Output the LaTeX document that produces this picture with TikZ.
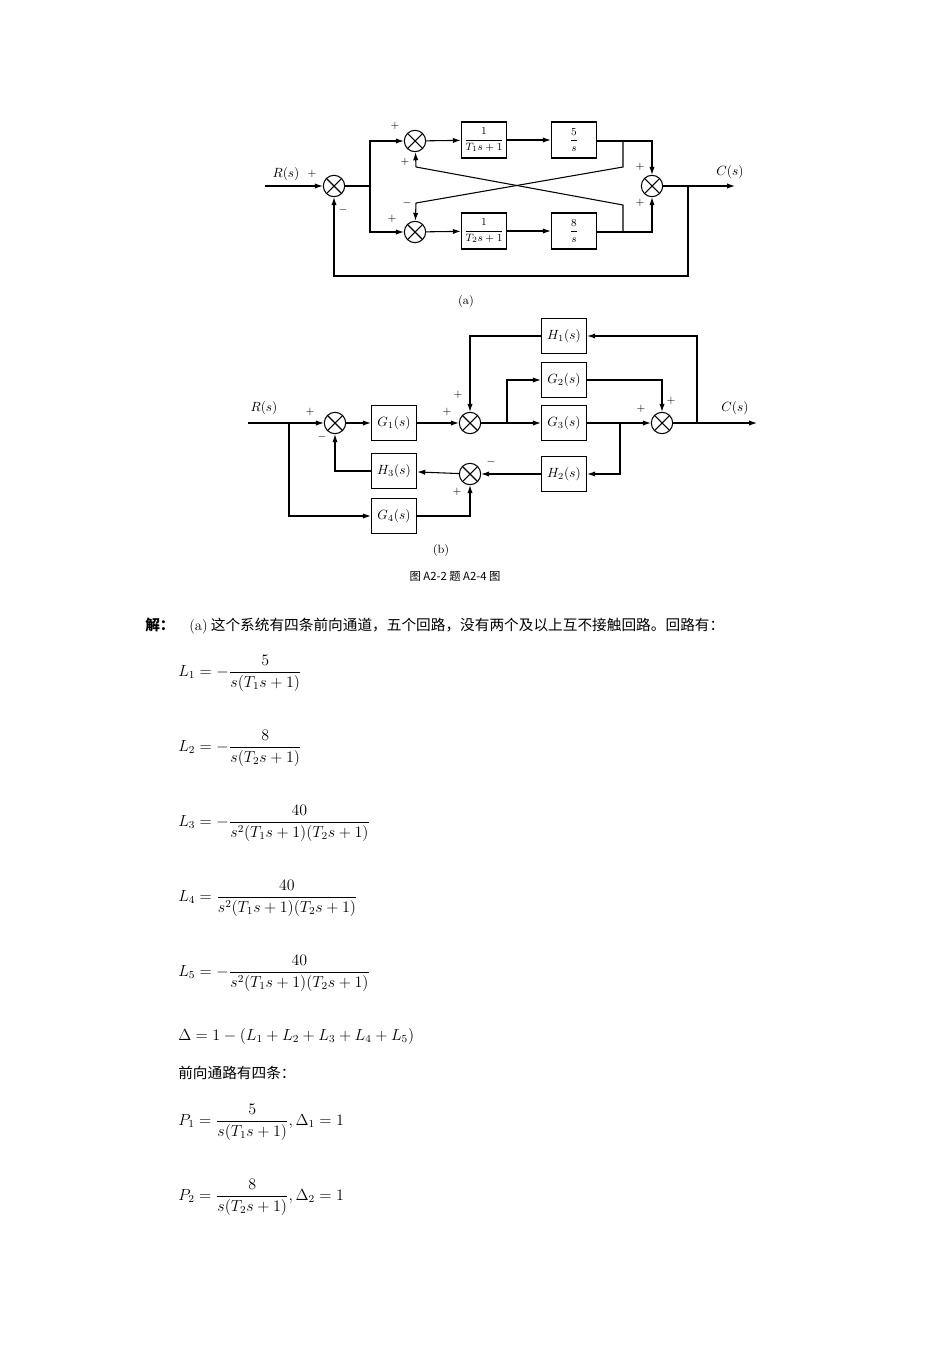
\documentclass[tikz,border=0pt]{standalone}
\usepackage{fontspec}
\usepackage{amsmath}
\newfontfamily\cjk{Noto Sans CJK SC}
\usetikzlibrary{arrows.meta}
\begin{document}
\begin{tikzpicture}[x=0.75pt,y=-0.75pt,
  sum/.style={circle,draw,thick,minimum size=16pt,inner sep=0pt,
    path picture={\draw[thick] (path picture bounding box.north west)--(path picture bounding box.south east)
      (path picture bounding box.north east)--(path picture bounding box.south west);}},
  blk/.style={draw,thick,minimum width=34pt,minimum height=27pt,inner sep=0pt,font=\footnotesize},
  sblk/.style={draw,thick,minimum width=34pt,minimum height=26pt,inner sep=0pt},
  ar/.style={-{Latex[length=6pt,width=4pt]},thick},
  ln/.style={thick},
  sg/.style={font=\footnotesize,inner sep=0pt},
  eq/.style={anchor=west,inner sep=0pt,font=\fontsize{12}{14}\selectfont},
  tx/.style={anchor=west,inner sep=0pt,font=\cjk\fontsize{11}{13}\selectfont}]
\useasboundingbox (0,0) rectangle (950,1345);
% ---------- (a) ----------
\node[sum] (s0) at (334,186) {};
\node[sum] (s1) at (415,141) {};
\node[sum] (s2) at (415,232) {};
\node[sum] (s3) at (652,186) {};
\node[blk] (a1) at (484,140) {$\dfrac{1}{T_1s+1}$};
\node[blk] (a2) at (574,140) {$\dfrac{5}{s}$};
\node[blk] (b1) at (484,231) {$\dfrac{1}{T_2s+1}$};
\node[blk] (b2) at (574,231) {$\dfrac{8}{s}$};
\coordinate (ra) at (265,186);
\coordinate (ja) at (370,186);
\coordinate (jt) at (623,141);
\coordinate (jb) at (623,232);
\coordinate (ca) at (735,186);
\coordinate (fa) at (688,186);
\node[inner sep=0pt] (Ra) at (286,174) {$R(s)$};
\node[inner sep=0pt] (Ca) at (730,172) {$C(s)$};
\draw[ar] (ra)--(s0);
\draw[ln] (s0)--(ja);
\draw[ar] (ja)|-(s1);
\draw[ar] (ja)|-(s2);
\draw[ar] (s1)--(a1);
\draw[ar] (a1)--(a2);
\draw[ar] (s2)--(b1);
\draw[ar] (b1)--(b2);
\draw[ln] (a2.east|-jt)--(jt);
\draw[ar] (jt)-|(s3);
\draw[ln] (b2.east|-jb)--(jb);
\draw[ar] (jb)-|(s3);
\draw[ln] (jt)--(623,167)--(416,203);
\draw[ar] (416,203)--(s2);
\draw[ln] (jb)--(623,205)--(416,167);
\draw[ar] (416,167)--(s1);
\draw[ar] (s3)--(ca);
\draw[ar] (fa)--(688,276)-|(s0);
\node[sg] at (312,174) {$+$};
\node[sg] at (343,210) {$-$};
\node[sg] at (395,126) {$+$};
\node[sg] at (405,162) {$+$};
\node[sg] at (407,203) {$-$};
\node[sg] at (392,219) {$+$};
\node[sg] at (640,167) {$+$};
\node[sg] at (640,203) {$+$};
\node[inner sep=0pt] (la) at (466,301) {\small (a)};
% ---------- (b) ----------
\node[sum] (t0) at (335,423) {};
\node[sum] (t1) at (470,423) {};
\node[sum] (t2) at (662,423) {};
\node[sum] (t3) at (470,474) {};
\node[sblk] (g1) at (394,423) {$G_1(s)$};
\node[sblk] (h1) at (564,336) {$H_1(s)$};
\node[sblk] (g2) at (564,380) {$G_2(s)$};
\node[sblk] (g3) at (564,423) {$G_3(s)$};
\node[sblk] (h2) at (564,474) {$H_2(s)$};
\node[sblk] (h3) at (394,471) {$H_3(s)$};
\node[sblk] (g4) at (394,516) {$G_4(s)$};
\coordinate (rb) at (248,423);
\coordinate (jr) at (289,423);
\coordinate (jg) at (507,423);
\coordinate (jh) at (620,423);
\coordinate (jo) at (697,423);
\coordinate (cb) at (757,423);
\node[inner sep=0pt] at (264,408) {$R(s)$};
\node[inner sep=0pt] at (735,408) {$C(s)$};
\draw[ln] (rb)--(jr);
\draw[ar] (jr)--(t0);
\draw[ar] (jr)|-(g4);
\draw[ar] (t0)--(g1);
\draw[ar] (g1)--(t1);
\draw[ln] (t1)--(jg);
\draw[ar] (jg)--(g3);
\draw[ar] (jg)|-(g2);
\draw[ar] (g2.east)-|(t2);
\draw[ar] (g3)--(t2);
\draw[ar] (jh)|-(h2);
\draw[ar] (h2)--(t3);
\draw[ar] (t3)--(h3);
\draw[ar] (h3.west)-|(t0);
\draw[ar] (g4.east)-|(t3);
\draw[ar] (t2)--(cb);
\draw[ar] (jo)|-(h1);
\draw[ar] (h1.west)-|(t1);
\node[sg] at (310,412) {$+$};
\node[sg] at (322,437) {$-$};
\node[sg] at (458,395) {$+$};
\node[sg] at (447,412) {$+$};
\node[sg] at (641,409) {$+$};
\node[sg] at (671,401) {$+$};
\node[sg] at (491,462) {$-$};
\node[sg] at (457,492) {$+$};
\node[inner sep=0pt] at (441,550) {\small (b)};
\node[inner sep=0pt,font=\cjk\fontsize{8.5}{10}\selectfont] at (455,576) {图 A2-2 题 A2-4 图};
% ---------- text ----------
\node[tx] (h) at (145,626) {{\bfseries 解：}\quad{\rmfamily (a)} 这个系统有四条前向通道，五个回路，没有两个及以上互不接触回路。回路有：};
\node[eq] (e1) at (178,673) {$L_1=-\dfrac{5}{s(T_1s+1)}$};
\node[eq] (e2) at (178,748) {$L_2=-\dfrac{8}{s(T_2s+1)}$};
\node[eq] (e3) at (178,823) {$L_3=-\dfrac{40}{s^2(T_1s+1)(T_2s+1)}$};
\node[eq] (e4) at (178,898) {$L_4=\dfrac{40}{s^2(T_1s+1)(T_2s+1)}$};
\node[eq] (e5) at (178,973) {$L_5=-\dfrac{40}{s^2(T_1s+1)(T_2s+1)}$};
\node[eq] (e6) at (178,1036) {$\Delta=1-(L_1+L_2+L_3+L_4+L_5)$};
\node[tx] (t) at (178,1073) {前向通路有四条：};
\node[eq] (e7) at (178,1122) {$P_1=\dfrac{5}{s(T_1s+1)},\Delta_1=1$};
\node[eq] (e8) at (178,1197) {$P_2=\dfrac{8}{s(T_2s+1)},\Delta_2=1$};
\end{tikzpicture}
\end{document}
